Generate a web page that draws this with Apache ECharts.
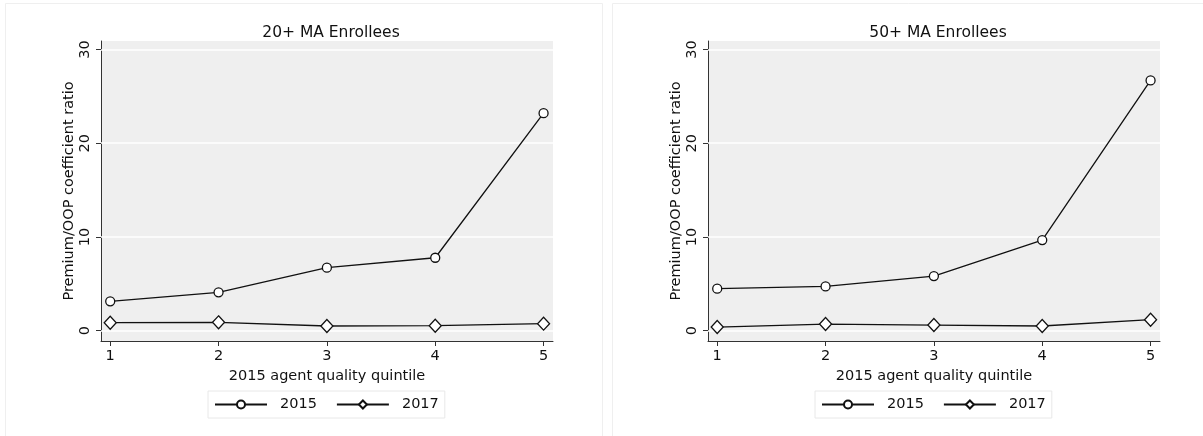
<!DOCTYPE html>
<html>
<head>
<meta charset="utf-8">
<script src="https://cdn.jsdelivr.net/npm/echarts@6/dist/echarts.min.js"></script>
<style>html,body{margin:0;padding:0;background:#fff}#c{width:1203px;height:436px}</style>
</head>
<body>
<div id="c"></div>
<script>
const quintiles = [1, 2, 3, 4, 5];
const yTicks = [0, 10, 20, 30];
const panelTitles = ['20+ MA Enrollees', '50+ MA Enrollees'];
const seriesNames = ['2015', '2017'];
const left2015 = [3.13, 4.09, 6.72, 7.78, 23.2];
const left2017 = [0.85, 0.89, 0.50, 0.53, 0.75];
const right2015 = [4.48, 4.72, 5.83, 9.67, 26.7];
const right2017 = [0.39, 0.71, 0.60, 0.50, 1.17];

const FONT = 'DejaVu Sans';
const pair = v => quintiles.map((q, i) => [q, v[i]]);
const panels = [
  {title: panelTitles[0], a: left2015, b: left2017, left: 101, cx: 326, legX: 208},
  {title: panelTitles[1], a: right2015, b: right2017, left: 708, cx: 933, legX: 815}
];

const option = {
  backgroundColor: '#ffffff',
  animation: false,
  graphic: [
    {type: 'rect', shape: {x: 5.5, y: 3.5, width: 597, height: 440}, style: {fill: 'none', stroke: '#efefef', lineWidth: 1}, silent: true},
    {type: 'rect', shape: {x: 612.5, y: 3.5, width: 597, height: 440}, style: {fill: 'none', stroke: '#efefef', lineWidth: 1}, silent: true}
  ],
  title: panels.map(p => ({
    text: p.title, left: p.cx, top: 20, textAlign: 'center',
    textStyle: {fontFamily: FONT, fontSize: 15.5, fontWeight: 'normal', color: '#111'}
  })),
  legend: panels.map((p, i) => ({
    left: p.legX, top: 391, width: 237, height: 26,
    data: seriesNames,
    itemWidth: 52, itemHeight: 10, itemGap: 19,
    padding: [6, 6, 6, 6],
    borderColor: '#e8e8e8', borderWidth: 1,
    selectedMode: false,
    textStyle: {fontFamily: FONT, fontSize: 14.5, color: '#111', padding: [0, 0, 0, 8]}
  })),
  grid: panels.map(p => ({
    left: p.left, top: 41, width: 452, height: 300,
    show: true, backgroundColor: '#efefef', borderWidth: 0
  })),
  xAxis: panels.map((p, i) => ({
    type: 'value', gridIndex: i, min: 0.915, max: 5.087,
    name: '2015 agent quality quintile', nameLocation: 'middle', nameGap: 26,
    nameTextStyle: {fontFamily: FONT, fontSize: 14.5, color: '#111'},
    axisLine: {show: true, onZero: false, lineStyle: {color: '#333', width: 1}},
    axisTick: {show: true, length: 5, customValues: quintiles, lineStyle: {color: '#333'}},
    axisLabel: {customValues: quintiles, margin: 8, fontFamily: FONT, fontSize: 14.5, color: '#111'},
    splitLine: {show: false}
  })),
  yAxis: panels.map((p, i) => ({
    type: 'value', gridIndex: i, min: -1.1, max: 30.9,
    name: 'Premium/OOP coefficient ratio', nameLocation: 'middle', nameGap: 19,
    nameTextStyle: {fontFamily: FONT, fontSize: 14.5, color: '#111'},
    axisLine: {show: true, onZero: false, lineStyle: {color: '#333', width: 1}},
    axisTick: {show: true, length: 5, customValues: yTicks, lineStyle: {color: '#333'}},
    axisLabel: {customValues: yTicks, rotate: 90, margin: 8, fontFamily: FONT, fontSize: 14.5, color: '#111'},
    splitLine: {show: false}
  })),
  series: []
};

panels.forEach((p, i) => {
  option.series.push({
    name: seriesNames[0], type: 'line', xAxisIndex: i, yAxisIndex: i,
    data: pair(p.a), symbol: 'circle', symbolSize: 9, z: 3,
    lineStyle: {color: '#111', width: 1.3},
    itemStyle: {color: '#ffffff', borderColor: '#111', borderWidth: 1.3},
    markLine: {
      silent: true, symbol: 'none', z: 1, label: {show: false},
      lineStyle: {color: '#ffffff', width: 1.5, type: 'solid'},
      data: yTicks.map(t => ({yAxis: t}))
    }
  });
  option.series.push({
    name: seriesNames[1], type: 'line', xAxisIndex: i, yAxisIndex: i,
    data: pair(p.b), symbol: 'diamond', symbolSize: [12, 13], z: 3,
    lineStyle: {color: '#111', width: 1.3},
    itemStyle: {color: '#ffffff', borderColor: '#111', borderWidth: 1.3}
  });
});

const chart = echarts.init(document.getElementById('c'));
chart.setOption(option);
</script>
</body>
</html>
